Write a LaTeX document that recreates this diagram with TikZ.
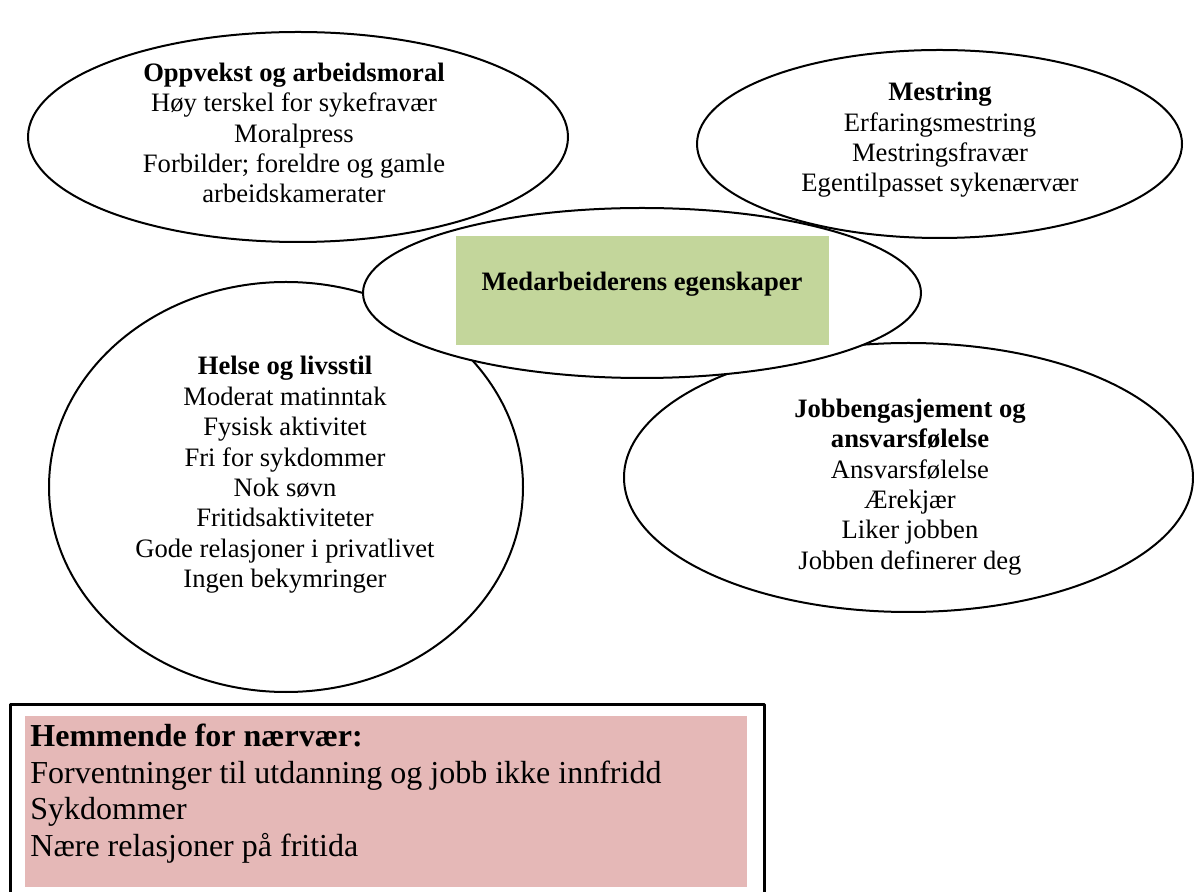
\documentclass[tikz,border=0pt]{standalone}
\usepackage{fontspec}
\setmainfont{Liberation Serif}
\usetikzlibrary{shapes.geometric}
\definecolor{grønn}{HTML}{C3D69B}
\definecolor{rosa}{HTML}{E5B8B7}
\begin{document}
\begin{tikzpicture}[x=0.5pt,y=-0.5pt,line join=round, line cap=round,
	sirkel/.style={ellipse,draw,fill=white,line width=1pt,inner sep=0pt},
	tekst/.style={align=center,font=\fontsize{13.3}{15.2}\selectfont,inner sep=0pt}];
			\useasboundingbox (0,0) rectangle (1194,892);
			% ellipsene
			\node[sirkel,minimum width=270pt,minimum height=105pt] (oppvekst) at (298,137) {};
			\node[sirkel,minimum width=242.5pt,minimum height=94pt] (mestring) at (939.5,144) {};
			\node[sirkel,minimum width=237pt,minimum height=205pt] (helse) at (286,487) {};
			\node[sirkel,minimum width=284.5pt,minimum height=134.5pt] (jobb) at (908.5,477.5) {};
			\node[sirkel,minimum width=279pt,minimum height=85pt] (kjerne) at (642,293) {};
			\node[fill=grønn,minimum width=186.5pt,minimum height=54.5pt,inner sep=0pt] (kjernefelt) at (642.5,290.5) {};
			% tekstene
			\node[tekst] (oppvekstTekst) at (294,133) {\textbf{Oppvekst og arbeidsmoral}\\Høy terskel for sykefravær\\Moralpress\\Forbilder; foreldre og gamle\\arbeidskamerater};
			\node[tekst] (mestringTekst) at (940,140) {\textbf{Mestring}\\Erfaringsmestring\\Mestringsfravær\\Egentilpasset sykenærvær};
			\node[tekst] (helseTekst) at (285,475) {\textbf{Helse og livsstil}\\Moderat matinntak\\Fysisk aktivitet\\Fri for sykdommer\\Nok søvn\\Fritidsaktiviteter\\Gode relasjoner i privatlivet\\Ingen bekymringer};
			\node[tekst] (jobbTekst) at (910,487) {\textbf{Jobbengasjement og}\\\textbf{ansvarsfølelse}\\Ansvarsfølelse\\Ærekjær\\Liker jobben\\Jobben definerer deg};
			\node[tekst] (kjerneTekst) at (642,284) {\textbf{Medarbeiderens egenskaper}};
			% boksen nederst
			\draw[line width=1.5pt] (10,704) rectangle (764,910);
			\fill[rosa] (25,716) rectangle (747,887);
			\node[anchor=north west,align=left,inner sep=0pt,font=\fontsize{16}{18.2}\selectfont] (hemmende) at (30,724) {\textbf{Hemmende for nærvær:}\\Forventninger til utdanning og jobb ikke innfridd\\Sykdommer\\Nære relasjoner på fritida};
		\end{tikzpicture}
\end{document}
